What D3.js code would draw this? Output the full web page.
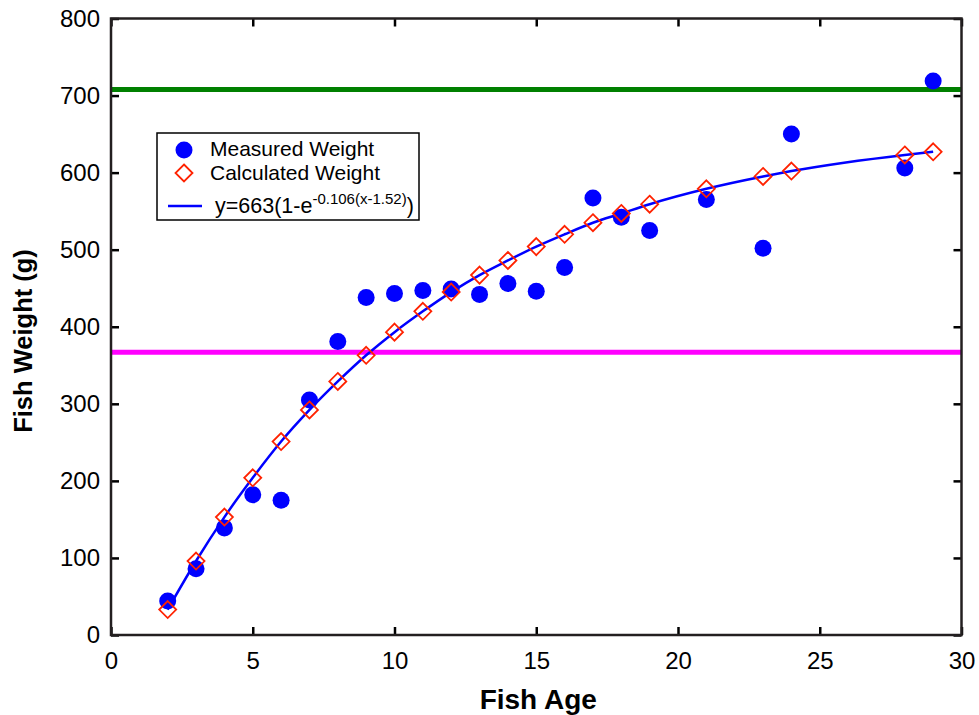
<!DOCTYPE html>
<html>
<head>
<meta charset="utf-8">
<script src="https://cdn.jsdelivr.net/npm/d3@7"></script>
<style>
  body { margin: 0; background: #fff; }
  text { font-family: "Liberation Sans", Arial, sans-serif; fill: #000; }
</style>
</head>
<body>
<div id="chart"></div>
<script>
// fish ages and weights
const ages = [2,3,4,5,6,7,8,9,10,11,12,13,14,15,16,17,18,19,21,23,24,28,29];
const measured = [44,86,139,182,175,305,381,438,443,447,449,442,456,446,477,567,542,525,565,502,650,606,719];
const calculated = [33,96,153,204,251,292,329,363,393,420,445,467,486,504,520,535,547,559,579,595,602,623,627];
const upperLine = 708;
const lowerLine = 367;
const xTicks = [0,5,10,15,20,25,30];
const yTicks = [0,100,200,300,400,500,600,700,800];

const W = 979, H = 715;
const margin = {top:18.5, right:17.5, bottom:80, left:111},
    width = W - margin.left - margin.right,
    height = H - margin.top - margin.bottom;

const svg = d3.select("#chart")
    .append("svg")
    .attr("width", W)
    .attr("height", H)
    .append("g")
    .attr("transform", "translate(" + margin.left + "," + margin.top + ")");

const x = d3.scaleLinear().domain([0,30]).range([0,width]);
const y = d3.scaleLinear().domain([0,800]).range([height,0]);

// axes, ticks pointing inward on all four sides
function styleAxis(g) {
    g.select(".domain").remove();
    g.selectAll(".tick line").attr("stroke","#000").attr("stroke-width",2.5);
    g.selectAll(".tick text").style("font-size","24px").style("font-family","'Liberation Sans', Arial, sans-serif");
}
svg.append("g")
    .attr("transform","translate(0,"+height+")")
    .call(d3.axisBottom(x).tickValues(xTicks).tickSize(-8).tickPadding(17))
    .call(styleAxis);
svg.append("g")
    .call(d3.axisLeft(y).tickValues(yTicks).tickSize(-8).tickPadding(11))
    .call(styleAxis);
svg.append("g")
    .call(d3.axisTop(x).tickValues(xTicks).tickSize(-8).tickFormat(""))
    .call(styleAxis);
svg.append("g")
    .attr("transform","translate("+width+",0)")
    .call(d3.axisRight(y).tickValues(yTicks).tickSize(-8).tickFormat(""))
    .call(styleAxis);

// horizontal reference lines
svg.append("line")
    .attr("x1",0).attr("x2",width)
    .attr("y1",y(upperLine)).attr("y2",y(upperLine))
    .attr("stroke","#008000").attr("stroke-width",5);
svg.append("line")
    .attr("x1",0).attr("x2",width)
    .attr("y1",y(lowerLine)).attr("y2",y(lowerLine))
    .attr("stroke","#ff00ff").attr("stroke-width",5);

// fitted curve through the calculated weights
const line = d3.line()
    .x(function(d,i){ return x(ages[i]); })
    .y(function(d){ return y(d); })
    .curve(d3.curveMonotoneX);
svg.append("path")
    .datum(calculated)
    .attr("d", line)
    .attr("fill","none")
    .attr("stroke","#0000ff")
    .attr("stroke-width",2.5);

// measured points
svg.append("g")
    .selectAll("circle")
    .data(measured)
    .enter()
    .append("circle")
    .attr("cx", function(d,i){ return x(ages[i]); })
    .attr("cy", function(d){ return y(d); })
    .attr("r", 8.5)
    .style("fill","#0000ff");

// calculated points (diamonds)
const diamond = "M0,-8.5L8.5,0L0,8.5L-8.5,0Z";
svg.append("g")
    .selectAll("path")
    .data(calculated)
    .enter()
    .append("path")
    .attr("d", diamond)
    .attr("transform", function(d,i){ return "translate("+x(ages[i])+","+y(d)+")"; })
    .attr("fill","none")
    .attr("stroke","#ff2200")
    .attr("stroke-width",1.8);

// frame
svg.append("rect")
    .attr("width",width).attr("height",height)
    .attr("fill","none").attr("stroke","#231f20").attr("stroke-width",2.5);

// axis titles
svg.append("text")
    .text("Fish Age")
    .attr("x", width/2 + 2)
    .attr("y", 709 - margin.top)
    .attr("text-anchor","middle")
    .style("font-size","28px")
    .style("font-weight","bold");
svg.append("text")
    .text("Fish Weight (g)")
    .attr("transform","translate("+(32 - margin.left)+","+(341 - margin.top)+")rotate(-90)")
    .attr("text-anchor","middle")
    .style("font-size","25.5px")
    .style("font-weight","bold");

// legend
const lg = svg.append("g").attr("transform","translate("+(157 - margin.left)+","+(133 - margin.top)+")");
lg.append("rect")
    .attr("width",262).attr("height",87)
    .attr("fill","#fff").attr("stroke","#000").attr("stroke-width",1.5);
lg.append("circle").attr("cx",27).attr("cy",17).attr("r",8.5).style("fill","#0000ff");
lg.append("text").attr("x",53).attr("y",23).text("Measured Weight").style("font-size","21px");
lg.append("path").attr("d",diamond).attr("transform","translate(27,40)")
    .attr("fill","none").attr("stroke","#ff2200").attr("stroke-width",1.8);
lg.append("text").attr("x",53).attr("y",47).text("Calculated Weight").style("font-size","21px");
lg.append("line").attr("x1",11).attr("x2",45).attr("y1",73).attr("y2",73)
    .attr("stroke","#0000ff").attr("stroke-width",2.5);
const ft = lg.append("text").attr("x",58).attr("y",80).style("font-size","21.5px");
ft.append("tspan").text("y=663(1-e");
ft.append("tspan").attr("dy",-9).style("font-size","15px").text("-0.106(x-1.52)");
ft.append("tspan").attr("dy",9).text(")");
</script>
</body>
</html>
